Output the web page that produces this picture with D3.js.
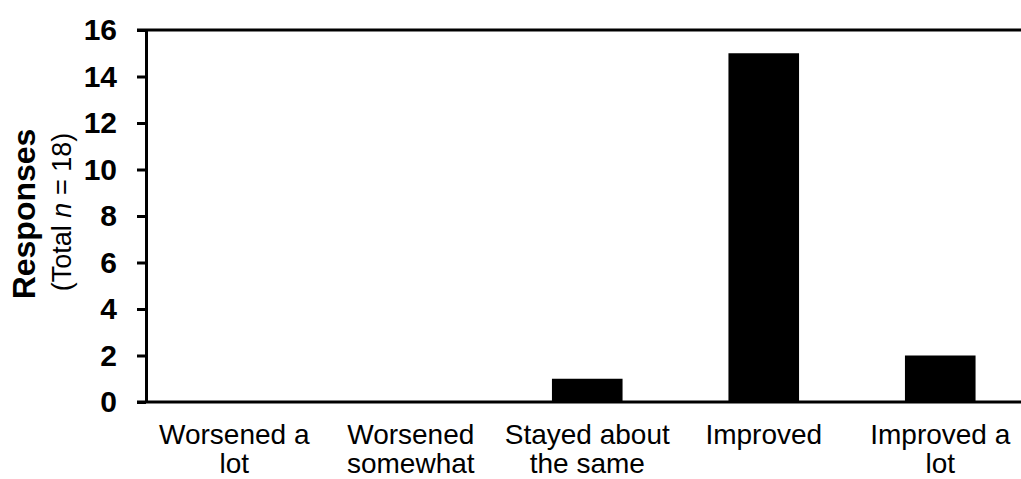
<!DOCTYPE html>
<html>
<head>
<meta charset="utf-8">
<script src="https://cdn.jsdelivr.net/npm/d3@7"></script>
<style>
  html, body { margin: 0; padding: 0; background: #fff; }
  svg { display: block; font-family: "Liberation Sans", Arial, Helvetica, sans-serif; }
</style>
</head>
<body>
<svg id="chart" width="1021" height="479"></svg>
<script>
const categories = [["Worsened a", "lot"], ["Worsened", "somewhat"], ["Stayed about", "the same"], ["Improved"], ["Improved a", "lot"]];
const values = [0, 0, 1, 15, 2];
const yTicks = [0, 2, 4, 6, 8, 10, 12, 14, 16];

const svg = d3.select("#chart");
const x0 = 146, x1 = 1028.5, yTop = 30, yBot = 402;
const keys = categories.map((c, i) => i);
const x = d3.scaleBand().domain(keys).range([x0, x1]).paddingInner(0.6).paddingOuter(0.3);
const y = d3.scaleLinear().domain([0, 16]).range([yBot, yTop]);

// bars
svg.append("g").selectAll("rect").data(values).join("rect")
  .attr("x", (d, i) => x(i))
  .attr("width", x.bandwidth())
  .attr("y", d => y(d))
  .attr("height", d => y(0) - y(d))
  .attr("fill", "#000");

// y axis
const yAxis = d3.axisLeft(y).tickValues(yTicks).tickSize(9).tickPadding(20).tickSizeOuter(0);
const gy = svg.append("g").attr("transform", `translate(${x0},0)`).call(yAxis);
gy.select(".domain").attr("stroke", "#000").attr("stroke-width", 3);
gy.selectAll(".tick line").attr("stroke", "#000").attr("stroke-width", 3);
gy.selectAll(".tick text").attr("fill", "#000").attr("font-size", 30).attr("font-weight", "bold")
  .attr("font-family", "Liberation Sans, Arial, sans-serif");

// top line
svg.append("line").attr("x1", x0 - 9).attr("x2", 1021).attr("y1", y(16)).attr("y2", y(16))
  .attr("stroke", "#000").attr("stroke-width", 3);

// x axis
const xAxis = d3.axisBottom(x).tickSize(0).tickFormat("");
const gx = svg.append("g").attr("transform", `translate(0,${yBot})`).call(xAxis);
gx.select(".domain").attr("stroke", "#000").attr("stroke-width", 3).attr("d", `M${x0 - 9},0H1021`);
gx.selectAll(".tick").each(function(d) {
  const t = d3.select(this).append("text").attr("fill", "#000").attr("text-anchor", "middle")
    .attr("font-size", 28).attr("font-family", "Liberation Sans, Arial, sans-serif");
  categories[d].forEach((line, j) => {
    t.append("tspan").attr("x", 0).attr("y", 42 + j * 29).text(line);
  });
});

// y title
svg.append("text").attr("transform", "translate(35,214) rotate(-90)")
  .attr("text-anchor", "middle").attr("fill", "#000")
  .attr("font-size", 32).attr("font-weight", "bold").text("Responses");
const sub = svg.append("text").attr("transform", "translate(71,212) rotate(-90)")
  .attr("text-anchor", "middle").attr("fill", "#000").attr("font-size", 27);
sub.append("tspan").text("(Total ");
sub.append("tspan").attr("font-style", "italic").text("n");
sub.append("tspan").text(" = 18)");
</script>
</body>
</html>
